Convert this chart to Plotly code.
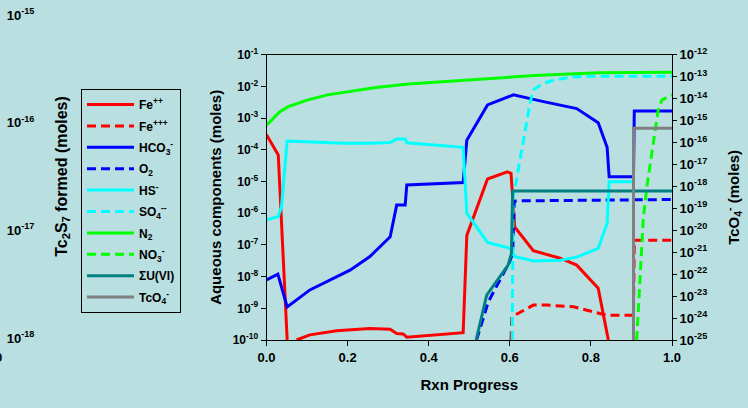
import plotly.graph_objects as go

# ---------------- data: reaction progress vs. moles ----------------
fe2_x = [0, 0.029, 0.051, None, 0.074, 0.107, 0.173, 0.255, 0.305, 0.321, 0.337, 0.346,
         0.485, 0.494, 0.545, 0.594, 0.603, 0.612, 0.658, 0.724, 0.765, 0.818, 0.843]
fe2_y = [3.0e-4, 6.9e-5, 1.0e-10, None, 1.0e-10, 1.45e-10, 1.95e-10, 2.3e-10, 2.2e-10, 1.6e-10,
         1.55e-10, 1.23e-10, 1.7e-10, 2.0e-7, 1.2e-5, 2.0e-5, 1.8e-5, 3.7e-7, 6.6e-8, 3.8e-8,
         2.3e-8, 4.3e-9, 1.0e-10]

fe3_x = [0.603, 0.605, 0.658, 0.691, 0.757, 0.822, 0.839, 0.905, 0.907, 1.0]
fe3_y = [1.0e-10, 5.4e-10, 1.26e-9, 1.26e-9, 1.12e-9, 6.6e-10, 6.0e-10, 6.0e-10, 1.4e-7, 1.4e-7]

hco3_x = [0, 0.028, 0.051, 0.107, 0.206, 0.255, 0.305, 0.321, 0.342, 0.346, 0.485, 0.494,
          0.545, 0.609, 0.683, 0.765, 0.818, 0.840, 0.845, 0.905, 0.907, 1.0]
hco3_y = [7.8e-9, 1.2e-8, 1.1e-9, 3.8e-9, 1.6e-8, 4.3e-8, 1.8e-7, 1.8e-6, 1.8e-6, 7.8e-6,
          9.3e-6, 2.0e-4, 2.6e-3, 5.4e-3, 3.3e-3, 2.0e-3, 7.2e-4, 1.2e-4, 1.4e-5, 1.4e-5,
          1.66e-3, 1.66e-3]

o2_x = [0.518, 0.547, 0.600, 0.607, 0.611, 0.620, 1.0]
o2_y = [1.0e-10, 1.6e-9, 3.0e-8, 5.4e-8, 2.4e-6, 2.45e-6, 2.7e-6]

hs_x = [0, 0.029, 0.037, 0.051, 0.190, 0.255, 0.305, 0.321, 0.342, 0.346, 0.485, 0.494,
        0.545, 0.601, 0.612, 0.658, 0.724, 0.765, 0.818, 0.840, 0.845, 0.903]
hs_y = [6.2e-7, 7.8e-7, 1.6e-6, 1.9e-4, 1.6e-4, 1.6e-4, 1.7e-4, 2.2e-4, 2.2e-4, 1.66e-4,
        1.2e-4, 1.0e-6, 1.2e-7, 7.8e-8, 4.3e-8, 3.1e-8, 3.3e-8, 4.1e-8, 7.8e-8, 4.8e-7,
        9.8e-6, 9.8e-6]

so4_x = [0.606, 0.608, 0.612, 0.625, 0.637, 0.650, 0.658, 0.683, 0.711, 0.757, 0.822, 1.0]
so4_y = [1.0e-10, 3.3e-6, 5.4e-6, 4.8e-5, 3.4e-4, 3.0e-3, 7.8e-3, 1.26e-2, 1.6e-2, 2.0e-2,
         2.1e-2, 2.1e-2]

n2_x = [0, 0.033, 0.054, 0.10, 0.15, 0.21, 0.27, 0.35, 0.49, 0.66, 0.82, 1.0]
n2_y = [6.0e-4, 1.6e-3, 2.3e-3, 3.7e-3, 5.4e-3, 7.2e-3, 9.3e-3, 1.2e-2, 1.6e-2, 2.2e-2,
        2.7e-2, 2.8e-2]

no3_x = [0.913, 0.921, 0.929, 0.938, 0.954, 0.966, 0.975, 1.0]
no3_y = [1.0e-10, 1.26e-8, 6.2e-7, 6.9e-6, 1.6e-4, 1.8e-3, 3.7e-3, 5.4e-3]

u6_x = [0.517, 0.543, 0.596, 0.604, 0.607, 1.0]
u6_y = [1.0e-10, 2.6e-9, 2.3e-8, 5.4e-8, 5.0e-6, 5.0e-6]

# TcO4- is read on the right-hand axis
tco4_x = [0.905, 0.905, 1.0]
tco4_y = [1.0e-25, 4.5e-16, 4.5e-16]

# axis tick exponents
left_exp = list(range(-1, -11, -1))
right_exp = list(range(-12, -26, -1))
tc2s7_exp = list(range(-15, -19, -1))

BG = "#B9DFE1"
FONT = "Liberation Sans, Arial, sans-serif"


def pow_labels(exps):
    return [10.0 ** e for e in exps], ["10<sup>%d</sup>" % e for e in exps]


series = [
    ("Fe<sup>++</sup>", fe2_x, fe2_y, "#FF0000", "solid", "y"),
    ("Fe<sup>+++</sup>", fe3_x, fe3_y, "#FF0000", "9px,5px", "y"),
    ("HCO<sub>3</sub><sup>-</sup>", hco3_x, hco3_y, "#0000FF", "solid", "y"),
    ("O<sub>2</sub>", o2_x, o2_y, "#0000FF", "9px,5px", "y"),
    ("HS<sup>-</sup>", hs_x, hs_y, "#00FFFF", "solid", "y"),
    ("SO<sub>4</sub><sup>--</sup>", so4_x, so4_y, "#00FFFF", "9px,5px", "y"),
    ("N<sub>2</sub>", n2_x, n2_y, "#00FF00", "solid", "y"),
    ("NO<sub>3</sub><sup>-</sup>", no3_x, no3_y, "#00FF00", "9px,5px", "y"),
    ("ΣU(VI)", u6_x, u6_y, "#008080", "solid", "y"),
    ("TcO<sub>4</sub><sup>-</sup>", tco4_x, tco4_y, "#808080", "solid", "y2"),
]

fig = go.Figure()
for i, (name, xs, ys, color, dash, yax) in enumerate(series):
    fig.add_trace(go.Scatter(
        x=xs, y=ys, name=name, mode="lines", yaxis=yax, legendgroup="g%d" % i,
        line=dict(color=color, width=3, dash=dash), connectgaps=False,
    ))

# axis for the Tc2S7 scale at the far left (no data plotted on it)
fig.add_trace(go.Scatter(x=[], y=[], xaxis="x3", yaxis="y3", showlegend=False))

lv, lt = pow_labels(left_exp)
rv, rt = pow_labels(right_exp)
tv, tt = pow_labels(tc2s7_exp)

x0, x1 = 266.5 / 748, 672 / 748
yb, yt = 1 - 340 / 408, 1 - 54.7 / 408

fig.update_layout(
    width=748, height=408,
    margin=dict(l=0, r=0, t=0, b=0, autoexpand=False),
    paper_bgcolor=BG, plot_bgcolor=BG,
    font=dict(family=FONT, color="black", size=12, weight="bold"),
    showlegend=True,
    legend=dict(
        x=81 / 748, y=1 - 89 / 408, xanchor="left", yanchor="top",
        bgcolor=BG, bordercolor="black", borderwidth=1,
        font=dict(size=12, family=FONT, weight="bold"),
        tracegroupgap=2.4, itemwidth=47,
    ),
    xaxis=dict(
        domain=[x0, x1], range=[0, 1], tickvals=[0, 0.2, 0.4, 0.6, 0.8, 1.0],
        tickformat=".1f", ticks="outside", ticklen=5, tickcolor="black",
        showline=True, linecolor="black", linewidth=1, mirror=True,
        showgrid=False, zeroline=False, tickfont=dict(size=13),
        title=dict(text="Rxn Progress", font=dict(size=15), standoff=15),
    ),
    yaxis=dict(
        domain=[yb, yt], type="log", range=[-10, -1], tickvals=lv, ticktext=lt,
        ticks="outside", ticklen=5, tickcolor="black",
        showline=True, linecolor="black", linewidth=1,
        showgrid=False, zeroline=False, tickfont=dict(size=12),
        title=dict(text="Aqueous components (moles)", font=dict(size=15), standoff=7),
    ),
    yaxis2=dict(
        overlaying="y", side="right", anchor="x", type="log", range=[-25, -12],
        tickvals=rv, ticktext=rt, ticks="outside", ticklen=4, tickcolor="black",
        showline=True, linecolor="black", linewidth=1,
        showgrid=False, zeroline=False, tickfont=dict(size=13),
        title=dict(text="TcO<sub>4</sub><sup>-</sup> (moles)", font=dict(size=15), standoff=21),
    ),
    xaxis3=dict(domain=[0, 0.001], visible=False, range=[0, 1], anchor="y3"),
    yaxis3=dict(
        domain=[1 - 338 / 408, 1 - 15 / 408], anchor="x3", side="right",
        type="log", range=[-18, -15], tickvals=tv, ticktext=tt,
        ticks="", showline=False, showgrid=False, zeroline=False,
        tickfont=dict(size=13), ticklabelstandoff=5,
        title=dict(text="Tc<sub>2</sub>S<sub>7</sub> formed (moles)", font=dict(size=16), standoff=22),
    ),
    annotations=[
        dict(text="0", x=-2 / 748, y=1 - 357 / 408, xref="paper", yref="paper",
             showarrow=False, xanchor="center", yanchor="middle", font=dict(size=13)),
    ],
)

fig.write_html("out.html")
